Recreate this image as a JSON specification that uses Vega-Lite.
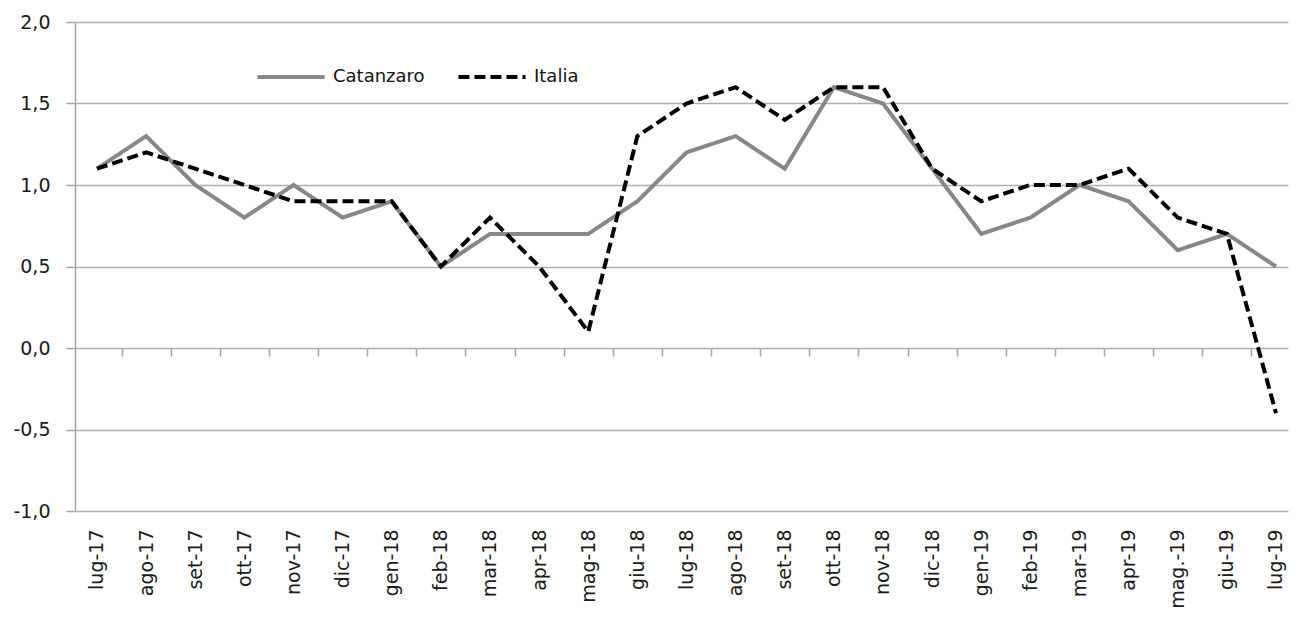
{
  "$schema": "https://vega.github.io/schema/vega-lite/v6.json",
  "width": 1213,
  "height": 489,
  "autosize": {"type": "none"},
  "padding": {"left": 75, "top": 22, "right": 9, "bottom": 108},
  "background": "white",
  "config": {"view": {"stroke": null}, "font": "DejaVu Sans"},
  "data": {
    "values": [
      {"mese": "lug-17", "serie": "Catanzaro", "valore": 1.1},
      {"mese": "ago-17", "serie": "Catanzaro", "valore": 1.3},
      {"mese": "set-17", "serie": "Catanzaro", "valore": 1.0},
      {"mese": "ott-17", "serie": "Catanzaro", "valore": 0.8},
      {"mese": "nov-17", "serie": "Catanzaro", "valore": 1.0},
      {"mese": "dic-17", "serie": "Catanzaro", "valore": 0.8},
      {"mese": "gen-18", "serie": "Catanzaro", "valore": 0.9},
      {"mese": "feb-18", "serie": "Catanzaro", "valore": 0.5},
      {"mese": "mar-18", "serie": "Catanzaro", "valore": 0.7},
      {"mese": "apr-18", "serie": "Catanzaro", "valore": 0.7},
      {"mese": "mag-18", "serie": "Catanzaro", "valore": 0.7},
      {"mese": "giu-18", "serie": "Catanzaro", "valore": 0.9},
      {"mese": "lug-18", "serie": "Catanzaro", "valore": 1.2},
      {"mese": "ago-18", "serie": "Catanzaro", "valore": 1.3},
      {"mese": "set-18", "serie": "Catanzaro", "valore": 1.1},
      {"mese": "ott-18", "serie": "Catanzaro", "valore": 1.6},
      {"mese": "nov-18", "serie": "Catanzaro", "valore": 1.5},
      {"mese": "dic-18", "serie": "Catanzaro", "valore": 1.1},
      {"mese": "gen-19", "serie": "Catanzaro", "valore": 0.7},
      {"mese": "feb-19", "serie": "Catanzaro", "valore": 0.8},
      {"mese": "mar-19", "serie": "Catanzaro", "valore": 1.0},
      {"mese": "apr-19", "serie": "Catanzaro", "valore": 0.9},
      {"mese": "mag.-19", "serie": "Catanzaro", "valore": 0.6},
      {"mese": "giu-19", "serie": "Catanzaro", "valore": 0.7},
      {"mese": "lug-19", "serie": "Catanzaro", "valore": 0.5},
      {"mese": "lug-17", "serie": "Italia", "valore": 1.1},
      {"mese": "ago-17", "serie": "Italia", "valore": 1.2},
      {"mese": "set-17", "serie": "Italia", "valore": 1.1},
      {"mese": "ott-17", "serie": "Italia", "valore": 1.0},
      {"mese": "nov-17", "serie": "Italia", "valore": 0.9},
      {"mese": "dic-17", "serie": "Italia", "valore": 0.9},
      {"mese": "gen-18", "serie": "Italia", "valore": 0.9},
      {"mese": "feb-18", "serie": "Italia", "valore": 0.5},
      {"mese": "mar-18", "serie": "Italia", "valore": 0.8},
      {"mese": "apr-18", "serie": "Italia", "valore": 0.5},
      {"mese": "mag-18", "serie": "Italia", "valore": 0.1},
      {"mese": "giu-18", "serie": "Italia", "valore": 1.3},
      {"mese": "lug-18", "serie": "Italia", "valore": 1.5},
      {"mese": "ago-18", "serie": "Italia", "valore": 1.6},
      {"mese": "set-18", "serie": "Italia", "valore": 1.4},
      {"mese": "ott-18", "serie": "Italia", "valore": 1.6},
      {"mese": "nov-18", "serie": "Italia", "valore": 1.6},
      {"mese": "dic-18", "serie": "Italia", "valore": 1.1},
      {"mese": "gen-19", "serie": "Italia", "valore": 0.9},
      {"mese": "feb-19", "serie": "Italia", "valore": 1.0},
      {"mese": "mar-19", "serie": "Italia", "valore": 1.0},
      {"mese": "apr-19", "serie": "Italia", "valore": 1.1},
      {"mese": "mag.-19", "serie": "Italia", "valore": 0.8},
      {"mese": "giu-19", "serie": "Italia", "valore": 0.7},
      {"mese": "lug-19", "serie": "Italia", "valore": -0.4}
    ]
  },
  "encoding": {
    "y": {
      "field": "valore",
      "type": "quantitative",
      "scale": {"domain": [-1, 2], "nice": false, "zero": false},
      "axis": {
        "title": null,
        "values": [-1, -0.5, 0, 0.5, 1, 1.5, 2],
        "labelExpr": "replace(replace(format(datum.value, '.1f'), '.', ','), '−', '-')",
        "labelFontSize": 19,
        "labelColor": "#1a1a1a",
        "labelPadding": 16,
        "domain": true,
        "domainColor": "#a6a6a6",
        "domainWidth": 1.5,
        "ticks": true,
        "tickSize": 9,
        "tickColor": "#a6a6a6",
        "tickWidth": 1.5,
        "grid": true,
        "gridColor": "#b0b0b0",
        "gridWidth": 1.5
      }
    },
    "color": {
      "field": "serie",
      "type": "nominal",
      "scale": {"domain": ["Catanzaro", "Italia"], "range": ["#878787", "#000000"]},
      "legend": {
        "title": null,
        "orient": "none",
        "legendX": 180,
        "legendY": 19,
        "direction": "horizontal",
        "symbolType": "stroke",
        "symbolSize": 4500,
        "symbolStrokeWidth": 4,
        "labelFontSize": 18,
        "labelColor": "#111111",
        "labelOffset": 6,
        "columnPadding": 25
      }
    },
    "strokeDash": {
      "field": "serie",
      "type": "nominal",
      "scale": {"domain": ["Catanzaro", "Italia"], "range": [[1, 0], [11, 5]]},
      "legend": {
        "title": null,
        "orient": "none",
        "legendX": 180,
        "legendY": 19,
        "direction": "horizontal",
        "symbolType": "stroke",
        "symbolSize": 4500,
        "symbolStrokeWidth": 4,
        "labelFontSize": 18,
        "labelColor": "#111111",
        "labelOffset": 6,
        "columnPadding": 25
      }
    }
  },
  "layer": [
    {
      "transform": [{"filter": "datum.serie === 'Catanzaro'"}],
      "mark": {"type": "line", "strokeWidth": 4},
      "encoding": {
        "x": {
          "field": "mese",
          "type": "ordinal",
          "sort": null,
          "scale": {"type": "point", "padding": 0.346, "align": 0.647},
          "axis": {
            "title": null,
            "orient": "bottom",
            "labelAngle": -90,
            "labelAlign": "right",
            "labelBaseline": "middle",
            "labelFontSize": 19,
            "labelColor": "#1a1a1a",
            "labelPadding": 18,
            "ticks": false,
            "domain": false,
            "grid": false
          }
        }
      }
    },
    {
      "transform": [{"filter": "datum.serie === 'Italia'"}],
      "mark": {"type": "line", "strokeWidth": 4},
      "encoding": {
        "x": {
          "field": "mese",
          "type": "ordinal",
          "sort": null,
          "axis": {
            "title": null,
            "orient": "bottom",
            "offset": -163,
            "labels": false,
            "ticks": true,
            "tickSize": 8,
            "tickColor": "#a6a6a6",
            "tickWidth": 1.5,
            "tickOffset": 24.56,
            "domain": false,
            "grid": false
          }
        }
      }
    }
  ],
  "resolve": {"axis": {"x": "independent"}}
}
